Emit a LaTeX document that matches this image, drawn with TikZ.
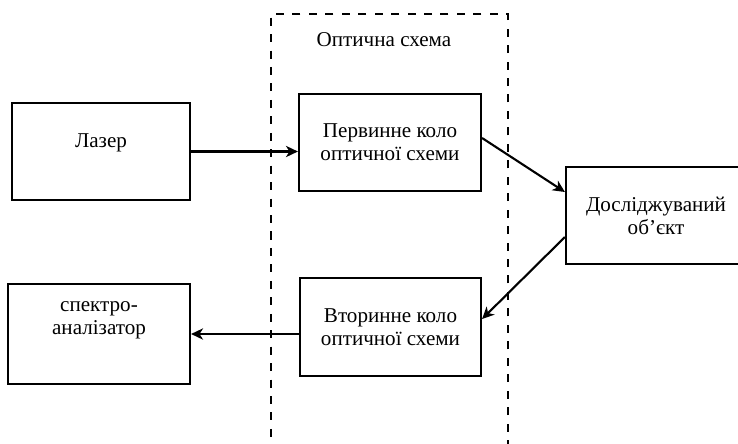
\documentclass[tikz,border=0pt]{standalone}
\usepackage{fontspec}
\setmainfont{Liberation Serif}
\usetikzlibrary{arrows.meta,positioning,calc}

\begin{document}
\begin{tikzpicture}[
    x=0.025cm, y=-0.025cm,
    blockNode/.style={
        rectangle, draw=black, line width=1.5pt,
        fill=white, text=black,
        font=\fontsize{15}{16.5}\selectfont, align=center,
        inner sep=0pt, minimum width=4.5cm, minimum height=2.45cm
    },
    groupFrame/.style={
        rectangle, draw=black, line width=1.5pt,
        dash pattern=on 5.7pt off 6pt
    },
    titleLabel/.style={
        font=\fontsize{15}{16.5}\selectfont, text=black
    },
    flowArrow/.style={
        -{Stealth[length=8.5pt,width=8pt,inset=2.5pt]}, line width=1.5pt, draw=black
    }
]
    \clip (0,0) rectangle (738,443);

    % Optical scheme frame (runs off the bottom)
    \node[groupFrame, anchor=north west, minimum width=5.925cm, minimum height=11.5cm] (optical) at (270,13) {};
    \node[titleLabel] (opticalTitle) at (384,40) {Оптична схема};

    % Blocks
    \node[blockNode, minimum width=4.45cm, minimum height=2.425cm, text depth=16pt] (laser) at (101,151.5) {Лазер};
    \node[blockNode, minimum width=4.55cm, minimum height=2.425cm] (primary) at (390,142.5) {Первинне коло\\оптичної схеми};
    \node[blockNode, minimum width=4.5cm, minimum height=2.425cm] (object) at (656,215.5) {Досліджуваний\\об’єкт};
    \node[blockNode, minimum width=4.525cm, minimum height=2.45cm] (secondary) at (390.5,327) {Вторинне коло\\оптичної схеми};
    \node[blockNode, minimum width=4.55cm, minimum height=2.5cm, text depth=23pt] (spectro) at (99,334) {спектро-\\аналізатор};

    % Arrows
    \draw[flowArrow] (laser.east) -- (laser.east -| primary.west);
    \draw[flowArrow] ($(primary.east)+(0,-4.5)$) -- ($(object.west)+(0,-23.5)$);
    \draw[flowArrow] ($(object.west)+(0,21.5)$) -- ($(secondary.east)+(0,-8)$);
    \draw[flowArrow] (spectro.east -| secondary.west) -- (spectro.east);

\end{tikzpicture}
\end{document}
